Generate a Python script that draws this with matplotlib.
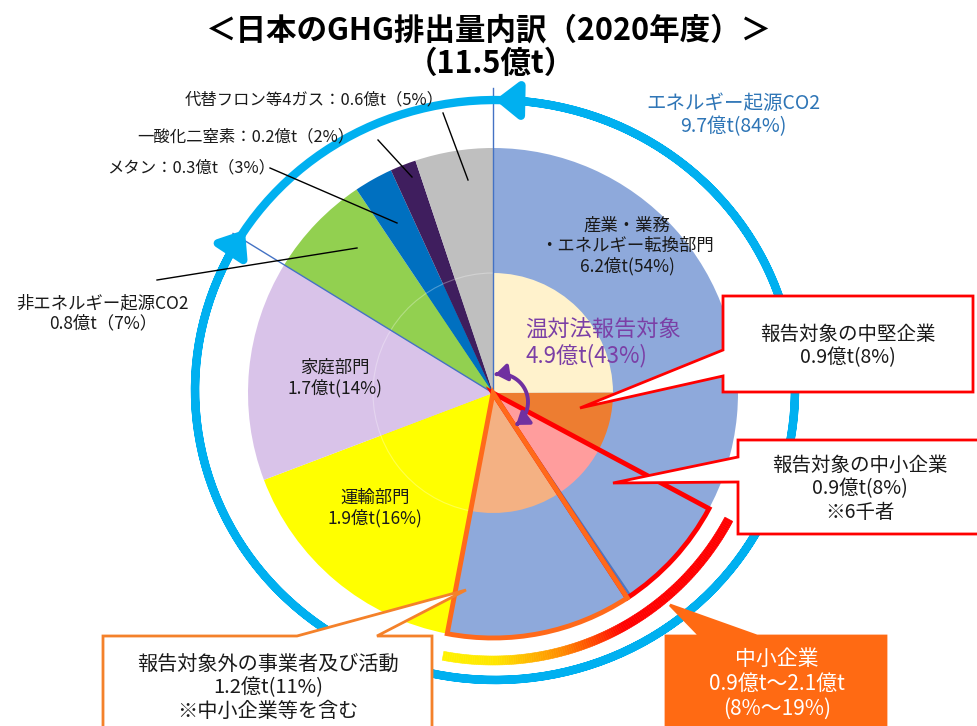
import numpy as np
import matplotlib
matplotlib.use('Agg')
import matplotlib.pyplot as plt
from matplotlib.patches import Wedge, Polygon, Arc, FancyArrowPatch, ArrowStyle
from matplotlib.path import Path
from matplotlib.colors import LinearSegmentedColormap

plt.rcParams['font.family'] = ['Noto Sans CJK JP', 'DejaVu Sans']

# --- data (億t) ---
sector_names = ['産業・業務・エネルギー転換部門', '運輸部門', '家庭部門',
                '非エネルギー起源CO2', 'メタン', '一酸化二窒素', '代替フロン等4ガス']
sector_values = [6.2, 1.9, 1.7, 0.8, 0.3, 0.2, 0.6]
sector_colors = ['#8EA9DB', '#FFFF00', '#D9C3E9', '#92D050', '#0070C0', '#3F1E5E', '#BFBFBF']

# inner ring: split of the 産業・業務 slice
split_names = ['温対法報告対象', '報告対象の中堅企業', '報告対象の中小企業', '報告対象外の事業者及び活動']
split_values = [2.92, 0.92, 0.93, 1.43]
split_colors = ['#FFF2CC', '#ED7D31', '#FF9D9D', '#F4B183']

W, H = 978, 726
fig = plt.figure(figsize=(W / 100, H / 100), dpi=100)
ax = fig.add_axes([0, 0, 1, 1])


def P(x, y):
    # picture pixel -> data coords (y up)
    return (x, H - y)


cx, cy = P(493, 393)
R, r_in = 245, 120
total = sum(sector_values)

# outer pie + inner ring
ax.pie(sector_values, colors=sector_colors, radius=R, center=(cx, cy), startangle=90,
       counterclock=False, wedgeprops=dict(linewidth=0), frame=True)
inner_values = split_values + sector_values[1:]
inner_colors = split_colors + sector_colors[1:]
ax.pie(inner_values, colors=inner_colors, radius=r_in, center=(cx, cy), startangle=90,
       counterclock=False, wedgeprops=dict(linewidth=0), frame=True)

bounds = 90 - 360 * np.cumsum([0] + inner_values) / total
energy_end = 90 - 360 * sum(sector_values[:3]) / total

# faint ring edge over the other sectors
ax.add_patch(Arc((cx, cy), 2 * r_in, 2 * r_in, theta1=90, theta2=bounds[4] + 360,
                 color='white', lw=0.8, alpha=0.3))

# thin blue boundary lines
for ang in [90, energy_end]:
    t = np.radians(ang)
    ax.plot([cx, cx + 305 * np.cos(t)], [cy, cy + 305 * np.sin(t)], color='#4472C4', lw=1, zorder=3)
t = np.radians(bounds[3] + 0.9)
ax.plot([cx, cx + R * np.cos(t)], [cy, cy + R * np.sin(t)], color='#4F78C0', lw=1.6, zorder=3)

# outlines of 中小企業 slice and 報告対象外 slice
ax.add_patch(Wedge((cx, cy), R, bounds[3], bounds[2], fill=False, ec='#FF0000', lw=3.5,
                   joinstyle='miter', zorder=4))
ax.add_patch(Wedge((cx, cy), R, bounds[4], bounds[3], fill=False, ec='#FF6A1A', lw=3.5,
                   joinstyle='miter', zorder=4))

# red -> yellow gradient arc
cmap = LinearSegmentedColormap.from_list('ry', [(0, '#FF0000'), (0.45, '#FF0000'), (0.65, '#FF8C00'),
                                               (0.85, '#FFE600'), (1, '#FFF200')])
angs = np.linspace(bounds[2], bounds[4], 150)
for i in range(len(angs) - 1):
    c = cmap(i / (len(angs) - 2))
    ax.add_patch(Wedge((cx, cy), 272, angs[i + 1], angs[i], width=9, fc=c, ec=c, lw=0.4, zorder=3))

# big cyan arrow (エネルギー起源CO2)
ecx, ecy = P(495, 390)
tt = np.radians(np.linspace(energy_end - 2, 450, 300))
pts = np.column_stack([ecx + 300 * np.cos(tt), ecy + 290 * np.sin(tt)])
ax.add_patch(FancyArrowPatch(path=Path(pts), arrowstyle=ArrowStyle('<|-|>', head_length=14, head_width=11),
                             mutation_scale=1, lw=6, color='#00B0F0', zorder=3))

# purple double arrow near centre
pcx, pcy = P(500, 402)
tt = np.radians(np.linspace(100, -55, 60))
pts = np.column_stack([pcx + 28 * np.cos(tt), pcy + 28 * np.sin(tt)])
ax.add_patch(FancyArrowPatch(path=Path(pts), arrowstyle=ArrowStyle('<|-|>', head_length=7, head_width=5),
                             mutation_scale=1, lw=2.8, color='#7030A0', zorder=6))


# callout boxes
def callout(points, fc, ec, lw=2):
    ax.add_patch(Polygon([P(x, y) for x, y in points], closed=True, fc=fc, ec=ec, lw=lw,
                         joinstyle='miter', zorder=5))


callout([(723, 296), (973, 296), (973, 392), (723, 392), (723, 376), (580, 408), (723, 350)],
        'white', '#FF0000')
callout([(738, 440), (985, 440), (985, 534), (738, 534), (738, 482), (613, 483), (738, 457)],
        'white', '#FF0000')
callout([(666, 636), (700, 636), (670, 605), (757, 636), (886, 636), (886, 740), (666, 740)],
        '#FF6A13', '#FF6A13')
callout([(103, 636), (297, 636), (466, 590), (377, 636), (432, 636), (432, 740), (103, 740)],
        'white', '#F4812A')


def txt(x, y, s, size, **kw):
    kw.setdefault('ha', 'center')
    kw.setdefault('color', '#1A1A1A')
    ax.text(x, H - y, s, fontsize=size, va='center', zorder=7, linespacing=1.15, **kw)


# title
txt(489, 31, '＜日本のGHG排出量内訳（2020年度）＞', 22, fontweight='bold', color='black')
txt(491, 64, '（11.5億t）', 22, fontweight='bold', color='black')

# labels
txt(733, 115, 'エネルギー起源CO2\n9.7億t(84%)', 14, color='#2E75B6')
txt(627, 246, '産業・業務\n・エネルギー転換部門\n6.2億t(54%)', 12.5)
txt(525, 343, '温対法報告対象\n4.9億t(43%)', 16, ha='left', color='#7B3FA6')
txt(335, 378, '家庭部門\n1.7億t(14%)', 12.5)
txt(375, 508, '運輸部門\n1.9億t(16%)', 12.5)

txt(848, 346, '報告対象の中堅企業\n0.9億t(8%)', 14)
txt(860, 489, '報告対象の中小企業\n0.9億t(8%)\n※6千者', 14)
txt(777, 684, '中小企業\n0.9億t～2.1億t\n(8%～19%)', 15, color='white')
txt(268, 688, '報告対象外の事業者及び活動\n1.2億t(11%)\n※中小企業等を含む', 14.5)

# gas labels with leader lines
txt(185, 100, '代替フロン等4ガス：0.6億t（5%）', 11.8, ha='left')
txt(137, 137, '一酸化二窒素：0.2億t（2%）', 11.8, ha='left')
txt(107, 168, 'メタン：0.3億t（3%）', 11.8, ha='left')
txt(103, 313, '非エネルギー起源CO2\n0.8億t（7%）', 12.5)
for (x1, y1), (x2, y2) in [((443, 113), (468, 180)), ((378, 140), (412, 177)),
                           ((270, 168), (397, 223)), ((157, 280), (357, 248))]:
    ax.plot([x1, x2], [H - y1, H - y2], color='black', lw=1, zorder=3)

ax.set_xlim(0, W)
ax.set_ylim(0, H)
ax.set_aspect('equal')
ax.axis('off')
fig.savefig('out.png', dpi=100)
